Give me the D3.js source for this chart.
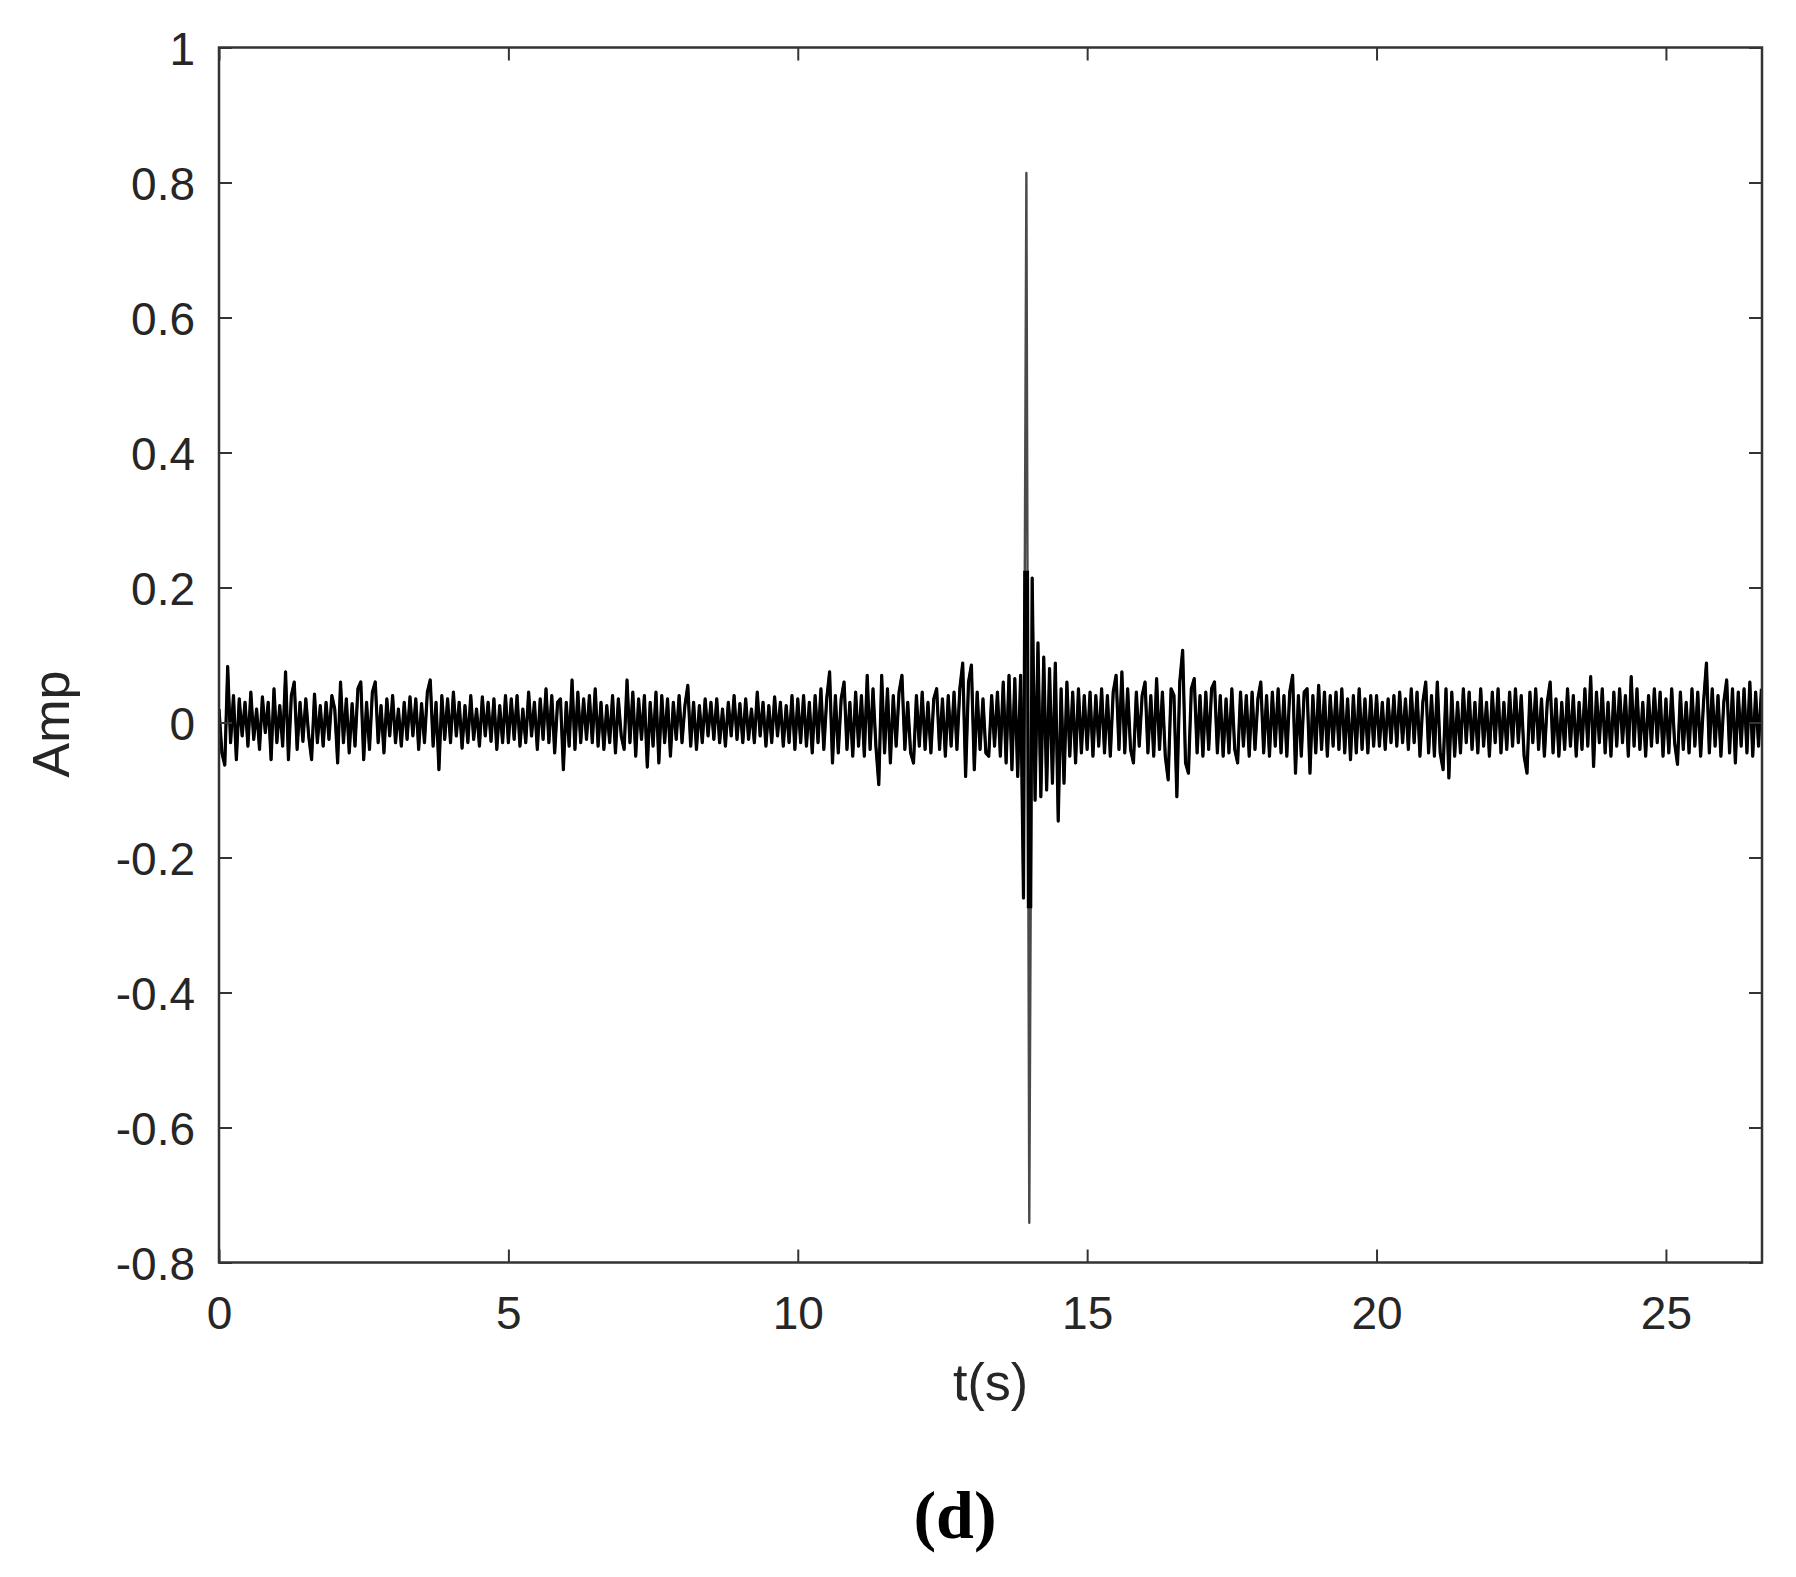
<!doctype html>
<html>
<head>
<meta charset="UTF-8">
<title>Amp vs t</title>
<script src="https://d3js.org/d3.v7.min.js"></script>
<style>
  body { margin: 0; background: #fff; }
  text { font-family: "Liberation Sans", Arial, sans-serif; fill: #262626; }
</style>
</head>
<body>
<svg id="chart" width="1796" height="1577"></svg>
<script>
// sample spacing (s) of the read-off signal
var dt = 0.05;

// amplitude, one value every 0.05 s
var ampA = [ // 0 - 4.95 s
  .02, -.045, -.063, .083, -.03, .04, -.055, .035, -.02, .03,
  -.035, .045, -.025, .02, -.04, .038, -.015, .03, -.055, .05,
  -.03, .025, -.035, .075, -.055, .04, .06, -.04, .03, -.028,
  .035, -.02, -.055, .042, -.03, .025, -.035, .03, -.025, .04,
  .02, -.06, .06, -.03, .035, -.045, .028, -.035, .05, .06,
  -.055, .03, -.04, .045, .06, -.03, .025, -.045, .035, -.02,
  .04, -.03, .02, -.035, .03, -.025, .038, -.02, .035, -.04,
  .028, -.03, .045, .063, -.035, .03, -.07, .04, -.025, .035,
  -.03, .045, -.02, .03, -.038, .025, -.03, .04, -.025, .02,
  -.035, .038, -.02, .03, -.028, .035, -.04, .025, -.03, .04
];
var ampB = [ // 5 - 9.95 s
  -.03, .035, -.025, .04, -.035, .02, -.03, .045, -.02, .03,
  -.04, .035, -.025, .05, -.03, .04, -.045, .03, .035, -.07,
  .03, -.035, .063, -.04, .045, -.03, .035, -.025, .04, -.03,
  .05, -.035, .03, -.04, .025, -.03, .04, -.045, .035, -.02,
  -.04, .063, -.03, .045, -.05, .035, -.025, .04, -.066, .03,
  -.035, .045, -.06, .04, -.03, .035, -.05, .03, -.025, .04,
  -.03, .025, .055, -.035, .03, -.04, .025, -.03, .035, -.02,
  .03, -.025, .035, -.03, .02, -.035, .03, -.02, .04, -.025,
  .028, -.03, .035, -.025, .02, -.03, .045, -.02, .03, -.035,
  .025, -.03, .038, -.02, .03, -.035, .025, -.03, .04, -.04
];
var ampC = [ // 10 - 14.95 s, main spike near 13.95 s
  .035, -.03, .04, -.035, .03, -.045, .04, -.03, .05, -.04,
  .035, .075, -.06, .04, -.045, .035, .06, -.04, .03, -.05,
  .045, -.035, .04, -.05, .07, -.04, .05, -.035, -.092, .07,
  -.045, .05, -.06, .04, -.035, .045, .07, -.04, .03, -.045,
  -.06, .04, -.035, .045, -.04, .03, -.045, .035, .05, -.04,
  .035, -.05, .04, -.035, .045, -.04, .05, .088, -.08, .06,
  .085, -.07, .045, -.04, .035, -.045, -.05, .04, -.035, .045,
  -.05, .06, -.06, .07, -.07, .065, -.08, .07, -.26, .814,
  -.741, .214, -.115, .118, -.11, .097, -.1, .08, -.09, .088,
  -.146, .05, -.09, .06, -.05, .045, -.06, .05, -.045, .04
];
var ampD = [ // 15 - 19.95 s
  -.04, .045, -.05, .04, -.035, .05, -.045, .04, -.05, .045,
  .07, -.04, .075, -.045, .05, -.04, -.06, .045, -.035, .04,
  .06, -.045, .04, -.05, .065, -.04, .045, -.05, -.085, .05,
  .04, -.11, .06, .107, -.06, -.075, .05, .065, -.045, .04,
  -.05, .045, -.04, .05, .06, -.045, .04, -.05, .035, -.045,
  .05, -.04, -.06, .045, -.035, .04, -.05, .045, -.04, .035,
  .06, -.045, .04, -.05, .045, -.035, .05, -.045, .04, -.05,
  .045, .07, -.075, .04, -.05, .045, .05, -.075, .04, -.045,
  .055, -.04, .045, -.05, .04, -.035, .045, -.04, .05, -.045,
  .035, -.055, .04, -.045, .05, -.04, .035, -.045, .04, -.035
];
var ampE = [ // 20 - 26.65 s
  .04, -.035, .03, -.04, .035, -.03, .04, -.035, .045, -.03,
  .035, -.04, .05, -.03, .045, -.05, .03, .06, -.045, .04,
  -.05, .06, -.045, -.07, .05, -.082, .045, -.05, .03, -.045,
  .05, -.03, .045, -.04, .03, -.045, .05, -.035, .03, -.05,
  .045, -.03, .05, -.045, .03, -.04, .045, -.035, .05, -.03,
  .04, -.05, -.075, .045, -.03, .05, -.04, .035, -.05, .03,
  .06, -.045, .035, -.05, .03, -.04, .05, -.035, .04, -.05,
  .03, -.04, .05, -.035, .068, -.065, .045, -.03, .05, -.045,
  .03, -.05, .045, -.035, .05, -.03, .04, -.05, .068, -.035,
  .05, -.04, .03, -.05, .04, -.035, .05, -.03, .045, -.05,
  .035, -.045, .05, -.03, -.062, .045, -.04, .03, -.045, .05,
  -.035, .045, -.05, .03, .088, -.045, .05, -.035, .04, -.05,
  .03, .063, -.045, .05, -.06, .045, -.035, .05, -.045, .06,
  -.05, .045, -.035, .05
];

var xTicks = [0, 5, 10, 15, 20, 25];
var xLabels = ["0", "5", "10", "15", "20", "25"];
var yTicks = [-0.8, -0.6, -0.4, -0.2, 0, 0.2, 0.4, 0.6, 0.8, 1];
var yLabels = ["-0.8", "-0.6", "-0.4", "-0.2", "0", "0.2", "0.4", "0.6", "0.8", "1"];

var amp = ampA.concat(ampB, ampC, ampD, ampE);
var signal = amp.map(function(v, i){ return {t: i * dt, v: v}; });

var svg = d3.select("#chart");
var pLeft = 219, pRight = 1762, pTop = 47.5, pBottom = 1262.5;

var x = d3.scaleLinear().domain([0, 26.66]).range([pLeft, pRight]);
var y = d3.scaleLinear().domain([-0.8, 1]).range([pBottom, pTop]);

svg.append("rect").attr("width", 1796).attr("height", 1577).attr("fill", "#fff");

var defs = svg.append("defs");
defs.append("clipPath").attr("id", "clip")
  .append("rect").attr("x", pLeft).attr("y", pTop)
  .attr("width", pRight - pLeft).attr("height", pBottom - pTop);
// band where the dense trace is drawn heavy; the tall spike stays thin outside it
defs.append("clipPath").attr("id", "band")
  .append("rect").attr("x", pLeft).attr("y", y(0.225))
  .attr("width", pRight - pLeft).attr("height", y(-0.275) - y(0.225));

var line = d3.line().x(function(d){ return x(d.t); }).y(function(d){ return y(d.v); });

svg.append("path")
  .datum(signal)
  .attr("clip-path", "url(#clip)")
  .attr("fill", "none")
  .attr("stroke", "#4a4a4a")
  .attr("stroke-width", 2.4)
  .attr("stroke-linejoin", "round")
  .attr("d", line);

svg.append("path")
  .datum(signal)
  .attr("clip-path", "url(#band)")
  .attr("fill", "none")
  .attr("stroke", "#000")
  .attr("stroke-width", 3.2)
  .attr("stroke-linejoin", "round")
  .attr("d", line);

function styleAxis(g) {
  g.select(".domain").remove();
  g.selectAll(".tick line").attr("stroke", "#333").attr("stroke-width", 2);
  g.selectAll(".tick text").style("font-size", "46px").attr("fill", "#262626");
}

svg.append("g").attr("transform", "translate(0," + pBottom + ")")
  .call(d3.axisBottom(x).tickValues(xTicks).tickSize(-13).tickPadding(34)
    .tickFormat(function(d, i){ return xLabels[i]; }))
  .call(styleAxis);

svg.append("g").attr("transform", "translate(0," + pTop + ")")
  .call(d3.axisTop(x).tickValues(xTicks).tickSize(-13).tickFormat(""))
  .call(styleAxis);

svg.append("g").attr("transform", "translate(" + pLeft + ",0)")
  .call(d3.axisLeft(y).tickValues(yTicks).tickSize(-13).tickPadding(24)
    .tickFormat(function(d, i){ return yLabels[i]; }))
  .call(styleAxis)
  .selectAll(".tick text").attr("dy", "0.37em");

svg.append("g").attr("transform", "translate(" + pRight + ",0)")
  .call(d3.axisRight(y).tickValues(yTicks).tickSize(-13).tickFormat(""))
  .call(styleAxis);

svg.append("rect")
  .attr("x", pLeft).attr("y", pTop)
  .attr("width", pRight - pLeft).attr("height", pBottom - pTop)
  .attr("fill", "none").attr("stroke", "#333").attr("stroke-width", 2.5);

svg.append("text")
  .attr("x", (pLeft + pRight) / 2).attr("y", 1400)
  .attr("text-anchor", "middle")
  .style("font-size", "52px")
  .text("t(s)");

svg.append("text")
  .attr("transform", "translate(69,724) rotate(-90)")
  .attr("text-anchor", "middle")
  .style("font-size", "52px")
  .text("Amp");

svg.append("text")
  .attr("x", 955).attr("y", 1538)
  .attr("text-anchor", "middle")
  .style("font-family", "'Liberation Serif', 'Times New Roman', serif")
  .style("font-weight", "bold")
  .style("font-size", "68px")
  .style("fill", "#000")
  .text("(d)");
</script>
</body>
</html>
